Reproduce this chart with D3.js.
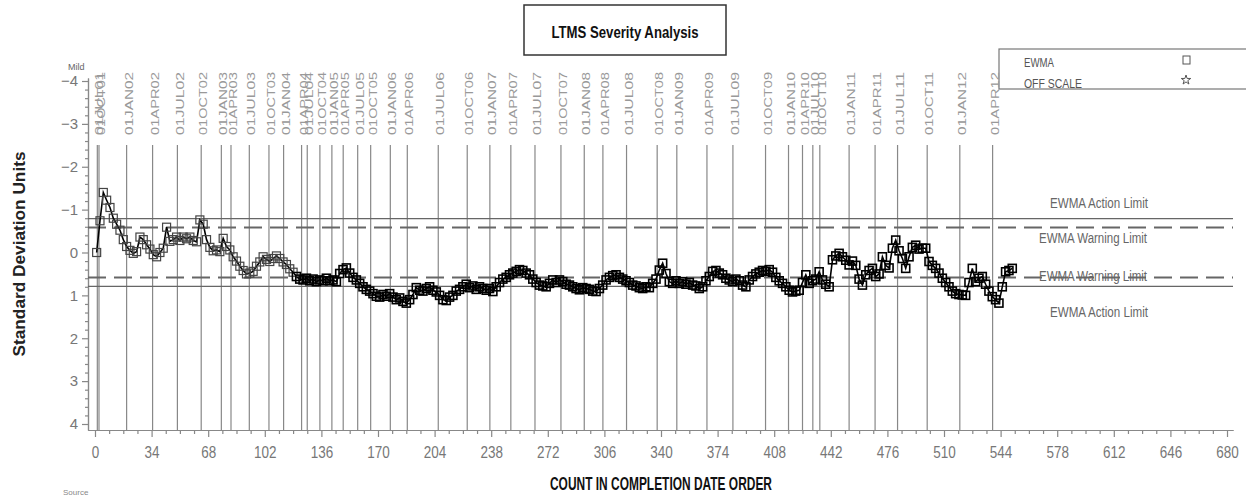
<!DOCTYPE html>
<html>
<head>
<meta charset="utf-8">
<script src="https://cdn.jsdelivr.net/npm/d3@7"></script>
<style>
  body { margin: 0; background: #fff; }
  svg { display: block; font-family: "Liberation Sans", Arial, sans-serif; }
</style>
</head>
<body>
<svg id="chart" width="1246" height="497"></svg>
<script>
// EWMA values, one reading every second count (1, 3, 5 ... 551)
const ewma = [
  0.00, -0.74, -1.40, -1.22, -1.05, -0.80, -0.66, -0.52, -0.30, -0.14,
  -0.05, 0.02, -0.02, -0.36, -0.30, -0.18, -0.08, 0.05, 0.10, 0.00,
  -0.10, -0.59, -0.26, -0.30, -0.36, -0.28, -0.36, -0.32, -0.36, -0.28,
  -0.25, -0.76, -0.66, -0.30, -0.12, -0.04, -0.06, -0.02, -0.33, -0.14,
  -0.06, 0.10, 0.20, 0.32, 0.42, 0.50, 0.48, 0.44, 0.32, 0.22,
  0.10, 0.16, 0.21, 0.14, 0.08, 0.14, 0.22, 0.28, 0.38, 0.46,
  0.56, 0.62, 0.64, 0.60, 0.66, 0.62, 0.68, 0.64, 0.66, 0.60,
  0.66, 0.64, 0.68, 0.49, 0.40, 0.36, 0.48, 0.58, 0.64, 0.72,
  0.80, 0.86, 0.90, 0.96, 1.02, 1.04, 0.98, 1.02, 0.96, 1.04,
  1.10, 1.06, 1.14, 1.18, 1.10, 0.98, 0.82, 0.88, 0.90, 0.84,
  0.80, 0.88, 0.92, 1.00, 1.10, 1.12, 1.04, 1.00, 0.90, 0.86,
  0.80, 0.74, 0.82, 0.78, 0.86, 0.80, 0.84, 0.88, 0.84, 0.91,
  0.80, 0.70, 0.62, 0.58, 0.52, 0.48, 0.44, 0.40, 0.42, 0.48,
  0.52, 0.62, 0.70, 0.76, 0.78, 0.80, 0.72, 0.64, 0.70, 0.64,
  0.68, 0.74, 0.76, 0.80, 0.84, 0.87, 0.82, 0.84, 0.86, 0.90,
  0.91, 0.84, 0.76, 0.64, 0.58, 0.54, 0.52, 0.58, 0.62, 0.66,
  0.70, 0.76, 0.78, 0.82, 0.84, 0.80, 0.82, 0.72, 0.62, 0.41,
  0.25, 0.49, 0.68, 0.72, 0.66, 0.72, 0.68, 0.74, 0.70, 0.76,
  0.78, 0.84, 0.80, 0.66, 0.56, 0.44, 0.42, 0.48, 0.52, 0.60,
  0.64, 0.68, 0.62, 0.66, 0.76, 0.80, 0.64, 0.56, 0.50, 0.46,
  0.42, 0.44, 0.40, 0.46, 0.58, 0.66, 0.72, 0.80, 0.88, 0.92,
  0.90, 0.88, 0.70, 0.52, 0.72, 0.66, 0.62, 0.45, 0.64, 0.74,
  0.80, 0.17, 0.08, 0.02, 0.10, 0.18, 0.29, 0.20, 0.30, 0.62,
  0.76, 0.52, 0.42, 0.37, 0.56, 0.50, 0.10, 0.30, 0.36, -0.10,
  -0.29, -0.04, 0.14, 0.37, 0.10, -0.12, -0.17, -0.08, -0.10, -0.10,
  0.21, 0.30, 0.37, 0.48, 0.60, 0.70, 0.80, 0.90, 0.96, 0.98,
  0.99, 1.00, 0.70, 0.37, 0.68, 0.60, 0.56, 0.74, 0.90, 1.03,
  1.10, 1.18, 0.80, 0.45, 0.42, 0.37
];
const counts = d3.range(1, 552, 2);

const dateLabels = ["01JUL01","01OCT01","01JAN02","01APR02","01JUL02","01OCT02",
  "01JAN03","01APR03","01JUL03","01OCT03","01JAN04","01APR04","01JUL04","01OCT04",
  "01JAN05","01APR05","01JUL05","01OCT05","01JAN06","01APR06","01JUL06","01OCT06",
  "01JAN07","01APR07","01JUL07","01OCT07","01JAN08","01APR08","01JUL08","01OCT08",
  "01JAN09","01APR09","01JUL09","01OCT09","01JAN10","01APR10","01JUL10","01OCT10",
  "01JAN11","01APR11","01JUL11","01OCT11","01JAN12","01APR12"];
const dateCounts = [1.4, 2.4, 19, 34.6, 49.5, 63.8, 75.9, 81.7, 92.7, 104.5, 113.3,
  124.1, 127.5, 135.1, 142.3, 149.1, 157.8, 165.6, 177.4, 187.6, 206.2, 223.6, 237.2,
  249.8, 264.3, 279.9, 293.9, 305.1, 319.3, 337.7, 349.5, 367.6, 383.2, 402.8, 416.6,
  425, 431.2, 435.4, 453, 468.6, 482.1, 499.9, 519.5, 539.2];

const xTicks = [0, 34, 68, 102, 136, 170, 204, 238, 272, 306, 340, 374, 408, 442, 476, 510, 544, 578, 612, 646, 680];
const yTicks = [-4, -3, -2, -1, 0, 1, 2, 3, 4];

const actionLimit = 0.79;
const warningLimit = 0.585;

const svg = d3.select("#chart");

let x = d3.scaleLinear().domain([-4.2, 683.6]).range([88, 1233]);
let y = d3.scaleLinear().domain([-4.07, 4.14]).range([78, 430]);

// title box
svg.append("rect")
  .attr("x", 524).attr("y", 5).attr("width", 202).attr("height", 50)
  .attr("fill", "none").attr("stroke", "#333").attr("stroke-width", 1.5);
svg.append("text")
  .attr("x", 625).attr("y", 38)
  .attr("text-anchor", "middle")
  .attr("font-size", 17).attr("font-weight", "bold").attr("fill", "#111")
  .attr("textLength", 147).attr("lengthAdjust", "spacingAndGlyphs")
  .text("LTMS Severity Analysis");

// legend box
svg.append("rect")
  .attr("x", 999).attr("y", 49).attr("width", 260).attr("height", 40)
  .attr("fill", "none").attr("stroke", "#777").attr("stroke-width", 1.2);
svg.append("text").attr("x", 1024).attr("y", 67)
  .attr("font-size", 13).attr("fill", "#555")
  .attr("textLength", 30).attr("lengthAdjust", "spacingAndGlyphs")
  .text("EWMA");
svg.append("text").attr("x", 1024).attr("y", 88)
  .attr("font-size", 13).attr("fill", "#555")
  .attr("textLength", 58).attr("lengthAdjust", "spacingAndGlyphs")
  .text("OFF SCALE");
svg.append("rect")
  .attr("x", 1183).attr("y", 56).attr("width", 7).attr("height", 8)
  .attr("fill", "none").attr("stroke", "#555");
svg.append("path")
  .attr("d", d3.symbol(d3.symbolStar, 28)())
  .attr("transform", "translate(1186,80)")
  .attr("fill", "none").attr("stroke", "#555");

// y axis
let yAxis = svg.append("g")
  .attr("transform", "translate(88,0)")
  .call(d3.axisLeft(y).tickValues(yTicks).tickSize(6).tickSizeOuter(0).tickPadding(4));
yAxis.selectAll("text")
  .attr("font-size", 15).attr("fill", "#777")
  .attr("font-family", "Liberation Sans, Arial, sans-serif");
svg.append("g")
  .attr("transform", "translate(88,0)")
  .call(d3.axisLeft(y).tickValues(d3.range(-20, 21).map(d => d / 5).filter(d => !yTicks.includes(d)))
    .tickSize(3).tickSizeOuter(0).tickFormat(""));

// x axis
let xAxis = svg.append("g")
  .attr("transform", "translate(0,430)")
  .call(d3.axisBottom(x).tickValues(xTicks).tickSize(7).tickSizeOuter(0).tickPadding(9));
xAxis.selectAll("text")
  .attr("font-size", 17).attr("fill", "#777")
  .attr("font-family", "Liberation Sans, Arial, sans-serif")
  .attr("textLength", d => String(d).length * 7.5)
  .attr("lengthAdjust", "spacingAndGlyphs");
svg.append("g")
  .attr("transform", "translate(0,430)")
  .call(d3.axisBottom(x).tickValues(d3.range(0, 81).map(d => d * 8.5).filter(d => d % 34 != 0))
    .tickSize(4).tickSizeOuter(0).tickFormat(""));

svg.selectAll(".domain, .tick line").attr("stroke", "#888").attr("stroke-width", 1.2);

// axis titles
svg.append("text")
  .attr("transform", "translate(25,254)rotate(-90)")
  .attr("text-anchor", "middle")
  .attr("font-size", 17).attr("font-weight", "bold").attr("fill", "#222")
  .attr("textLength", 205).attr("lengthAdjust", "spacingAndGlyphs")
  .text("Standard Deviation Units");
svg.append("text")
  .attr("x", 661).attr("y", 490)
  .attr("text-anchor", "middle")
  .attr("font-size", 18).attr("font-weight", "bold").attr("fill", "#111")
  .attr("textLength", 222).attr("lengthAdjust", "spacingAndGlyphs")
  .text("COUNT IN COMPLETION DATE ORDER");
svg.append("text").attr("x", 68).attr("y", 70)
  .attr("font-size", 9).attr("fill", "#666").text("Mild");
svg.append("text").attr("x", 63).attr("y", 495)
  .attr("font-size", 8).attr("fill", "#888").text("Source");

// date reference lines
svg.selectAll(".dline")
  .data(dateCounts)
  .enter()
  .append("line")
  .attr("x1", d => x(d)).attr("x2", d => x(d))
  .attr("y1", 145).attr("y2", 430)
  .attr("stroke", "#888").attr("stroke-width", 1.2);
svg.selectAll(".dlabel")
  .data(dateCounts)
  .enter()
  .append("text")
  .attr("transform", d => "translate(" + (x(d) + 2) + ",135)rotate(-90)")
  .attr("dy", "0.36em")
  .attr("font-size", 11.5).attr("fill", "#999")
  .attr("textLength", 63).attr("lengthAdjust", "spacingAndGlyphs")
  .text((d, i) => dateLabels[i]);

// limit lines
[-actionLimit, actionLimit].forEach(v => {
  svg.append("line")
    .attr("x1", x.range()[0]).attr("x2", x.range()[1])
    .attr("y1", y(v)).attr("y2", y(v))
    .attr("stroke", "#666").attr("stroke-width", 1.2);
});
[-warningLimit, warningLimit].forEach(v => {
  svg.append("line")
    .attr("x1", x.range()[0]).attr("x2", x.range()[1])
    .attr("y1", y(v)).attr("y2", y(v))
    .attr("stroke", "#666").attr("stroke-width", 2)
    .attr("stroke-dasharray", "18,8");
});

let limitText = [
  {t: "EWMA Action Limit", y: 208, w: 98, x: 1050},
  {t: "EWMA Warning Limit", y: 243, w: 108, x: 1039},
  {t: "EWMA Warning Limit", y: 281, w: 108, x: 1039},
  {t: "EWMA Action Limit", y: 317, w: 98, x: 1050}
];
limitText.forEach(d => {
  svg.append("text")
    .attr("x", d.x).attr("y", d.y)
    .attr("font-size", 14).attr("fill", "#666")
    .attr("textLength", d.w).attr("lengthAdjust", "spacingAndGlyphs")
    .text(d.t);
});

// EWMA series
let pts = counts.map((c, i) => ({c: c, v: ewma[i]}));
svg.append("path")
  .datum(pts)
  .attr("fill", "none").attr("stroke", "#000").attr("stroke-width", 1.6)
  .attr("d", d3.line().x(d => x(d.c)).y(d => y(d.v)));
svg.selectAll(".pt")
  .data(pts)
  .enter()
  .append("rect")
  .attr("x", d => x(d.c) - 4).attr("y", d => y(d.v) - 4)
  .attr("width", 8).attr("height", 8)
  .attr("fill", "none")
  .attr("stroke", d => d.c > 120 ? "#000" : "#444")
  .attr("stroke-width", d => d.c > 120 ? 1.6 : 1.2);
</script>
</body>
</html>
